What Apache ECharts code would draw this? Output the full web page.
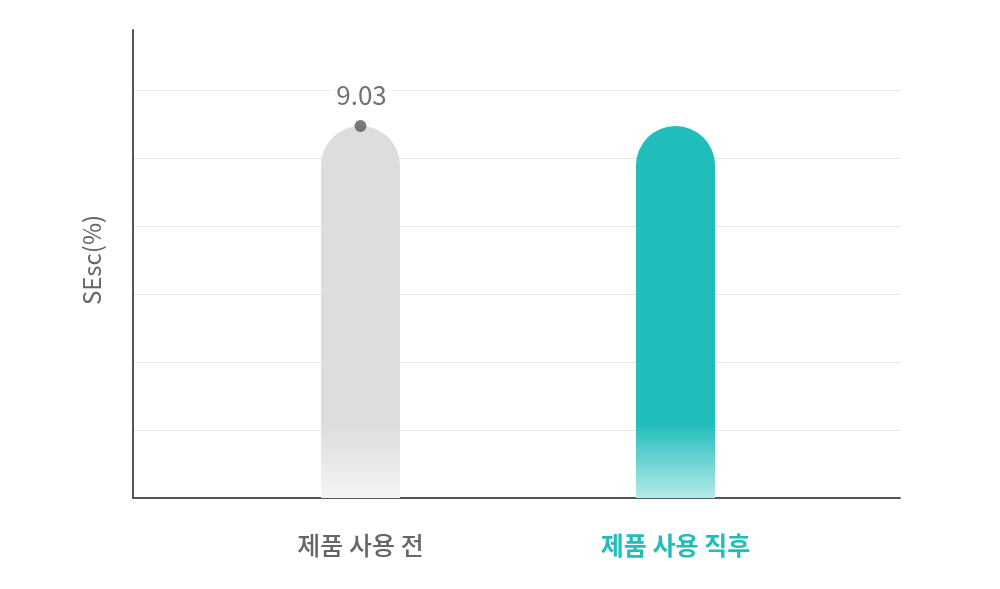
<!DOCTYPE html>
<html>
<head>
<meta charset="utf-8">
<script src="https://cdn.jsdelivr.net/npm/echarts@6/dist/echarts.min.js"></script>
<style>
  html, body { margin: 0; padding: 0; background: #fff; }
  #chart { width: 1000px; height: 589px; }
</style>
</head>
<body>
<div id="chart"></div>
<script>
// 데이터
var categories = ['제품 사용 전', '제품 사용 직후'];
var sescValues = [9.03, 9.03];
var labelValues = [9.03, null];

var fontFamily = '"Noto Sans CJK KR", "Noto Sans", sans-serif';
var myChart = echarts.init(document.getElementById('chart'));

// 막대 그라데이션
var greyFill = new echarts.graphic.LinearGradient(0, 0, 0, 1, [
  { offset: 0, color: '#dddddd' },
  { offset: 0.8, color: '#dddddd' },
  { offset: 1, color: '#f4f4f4' }
]);
var tealFill = new echarts.graphic.LinearGradient(0, 0, 0, 1, [
  { offset: 0, color: '#20bdbb' },
  { offset: 0.8, color: '#20bdbb' },
  { offset: 1, color: '#b5eae8' }
]);

var yMax = 11.36;
var yStep = 1.65;

myChart.setOption({
  animation: false,
  grid: [
    { left: 133, right: 100, top: 30, bottom: 91 },
    { left: 203, right: 167, top: 30, bottom: 91 }
  ],
  xAxis: [
    {
      gridIndex: 0,
      type: 'value',
      min: 0,
      max: 1,
      axisLine: { show: true, onZero: false, lineStyle: { color: '#555', width: 2 } },
      axisTick: { show: false },
      axisLabel: { show: false },
      splitLine: { show: false }
    },
    {
      gridIndex: 1,
      type: 'category',
      data: categories,
      axisLine: { show: false },
      axisTick: { show: false },
      axisLabel: {
        margin: 35,
        fontFamily: fontFamily,
        fontSize: 25,
        formatter: function(val, idx) {
          return idx === 1 ? '{hl|' + val + '}' : '{nm|' + val + '}';
        },
        rich: {
          nm: { color: '#666', fontSize: 25, fontWeight: 500, fontFamily: fontFamily },
          hl: { color: '#20bdbb', fontSize: 25, fontWeight: 'bold', fontFamily: fontFamily }
        }
      }
    }
  ],
  yAxis: [
    {
      gridIndex: 0,
      type: 'value',
      min: 0,
      max: yMax,
      interval: yStep,
      name: 'SEsc(%)',
      nameLocation: 'middle',
      nameGap: 29,
      nameTextStyle: { color: '#666', fontSize: 24, fontFamily: fontFamily, padding: [0, 0, 0, 8] },
      axisLine: { show: true, lineStyle: { color: '#555', width: 2 } },
      axisTick: { show: false },
      axisLabel: { show: false },
      splitLine: { show: true, showMinLine: false, showMaxLine: false, lineStyle: { color: '#e6e6e6', width: 1 } }
    },
    {
      gridIndex: 1,
      type: 'value',
      min: 0,
      max: yMax,
      interval: yStep,
      show: false,
      splitLine: { show: false }
    }
  ],
  series: [
    {
      type: 'bar',
      xAxisIndex: 1,
      yAxisIndex: 1,
      barWidth: 79,
      data: [
        { value: sescValues[0], itemStyle: { color: greyFill, borderRadius: [40, 40, 0, 0] } },
        { value: sescValues[1], itemStyle: { color: tealFill, borderRadius: [40, 40, 0, 0] } }
      ],
      z: 2
    },
    {
      // 값 표시 점
      type: 'scatter',
      xAxisIndex: 1,
      yAxisIndex: 1,
      symbolSize: 12,
      itemStyle: { color: '#5a5a5a' },
      data: labelValues,
      label: {
        show: true,
        position: 'top',
        distance: 12,
        offset: [1, 0],
        color: '#4f4f4f',
        fontSize: 26,
        fontFamily: fontFamily,
        backgroundColor: '#fff',
        padding: [0, 6],
        formatter: function(p) { return p.value.toFixed(2); }
      },
      z: 5
    }
  ]
});
</script>
</body>
</html>
